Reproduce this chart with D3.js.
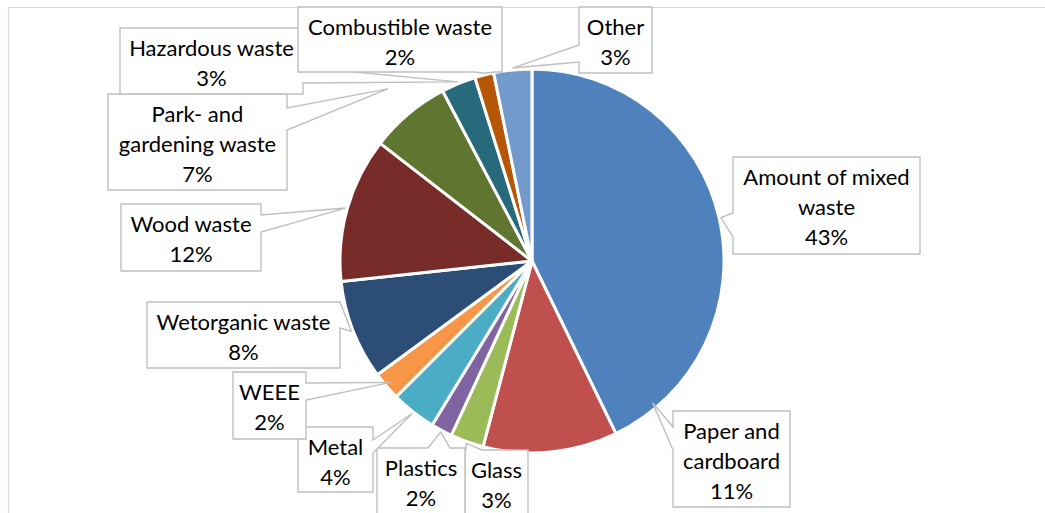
<!DOCTYPE html>
<html>
<head>
<meta charset="utf-8">
<script src="https://cdn.jsdelivr.net/npm/d3@7"></script>
<style>
  html, body { margin: 0; padding: 0; background: #fff; }
  svg { display: block; }
  text { font-family: Lato, "Noto Sans", sans-serif; fill: #000; }
</style>
</head>
<body>
<svg id="chart" width="1045" height="513"></svg>
<script>
// Waste composition (share of total, %), clockwise from 12 o'clock
const categories = [
  "Amount of mixed waste", "Paper and cardboard", "Glass", "Plastics", "Metal", "WEEE",
  "Wetorganic waste", "Wood waste", "Park- and gardening waste", "Hazardous waste",
  "Combustible waste", "Other"
];
const shares = [42.8, 11.3, 2.8, 1.8, 3.8, 2.4, 8.4, 12.2, 6.8, 2.9, 1.6, 3.2];
const labelLines = [
  ["Amount of mixed", "waste"], ["Paper and", "cardboard"], ["Glass"], ["Plastics"], ["Metal"],
  ["WEEE"], ["Wetorganic waste"], ["Wood waste"], ["Park- and", "gardening waste"],
  ["Hazardous waste"], ["Combustible waste"], ["Other"]
];
const colors = [
  "#4F81BD", "#C0504D", "#9BBB59", "#8064A2", "#4BACC6", "#F79646",
  "#2C4D75", "#772C2A", "#5F7530", "#276A7C", "#B65708", "#729ACA"
];

// Callout placement: box [x0, y0, x1, y1], side carrying the pointer, pointer base span,
// and tweaks to where the pointer touches the slice (angle offset in degrees, radius factor).
const callouts = [
  { box: [733, 157, 920, 254], side: "left",   base: [213, 237] },
  { box: [673, 411, 790, 507], side: "left",   base: [427, 450], dAngle: -34.8, rf: 0.97 },
  { box: [465, 450, 528, 540], side: "top",    base: [466, 482] },
  { box: [377, 448, 465, 540], side: "top",    base: [428, 450] },
  { box: [298, 427, 373, 492], side: "right",  base: [440, 453] },
  { box: [233, 372, 306, 439], side: "right",  base: [383, 400], rf: 0.97 },
  { box: [147, 302, 340, 368], side: "right",  base: [302, 328] },
  { box: [121, 204, 261, 271], side: "right",  base: [215, 232] },
  { box: [108,  94, 287, 190], side: "right",  base: [108, 130], rf: 1.17 },
  { box: [120,  28, 303,  94], side: "right",  base: [67, 83] },
  { box: [298,   7, 502,  72], side: "bottom", base: [475, 495] },
  { box: [579,   7, 652,  73], side: "left",   base: [45, 62] }
];

const W = 1045, H = 513;
const cx = 532, cy = 261, R = 192;

const svg = d3.select("#chart");

// outer chart frame
svg.append("path")
  .attr("d", `M8.5,${H + 5} L8.5,7.5 L${W + 5},7.5`)
  .attr("fill", "none")
  .attr("stroke", "#d9d9d9")
  .attr("stroke-width", 1.2);

const pie = d3.pie().sort(null).value(d => d);
const arcs = pie(shares);
const arc = d3.arc().innerRadius(0).outerRadius(R);

const g = svg.append("g").attr("transform", `translate(${cx},${cy})`);
g.selectAll("path.slice")
  .data(arcs)
  .join("path")
  .attr("class", "slice")
  .attr("d", arc)
  .attr("fill", (d, i) => colors[i])
  .attr("stroke", "#fff")
  .attr("stroke-width", 3)
  .attr("stroke-linejoin", "round");

// point on the pie for a given angle (clockwise from 12 o'clock, radians) and radius
function polar(a, r) {
  return [cx + r * Math.sin(a), cy - r * Math.cos(a)];
}

function calloutPath(c, tip) {
  const [x0, y0, x1, y1] = c.box;
  const [a, b] = c.base;
  let pts;
  if (c.side === "top") {
    pts = [[x0, y0], [a, y0], tip, [b, y0], [x1, y0], [x1, y1], [x0, y1]];
  } else if (c.side === "right") {
    pts = [[x0, y0], [x1, y0], [x1, a], tip, [x1, b], [x1, y1], [x0, y1]];
  } else if (c.side === "bottom") {
    pts = [[x0, y0], [x1, y0], [x1, y1], [b, y1], tip, [a, y1], [x0, y1]];
  } else {
    pts = [[x0, y0], [x1, y0], [x1, y1], [x0, y1], [x0, b], tip, [x0, a]];
  }
  return "M" + pts.map(p => p.join(",")).join("L") + "Z";
}

const fmt = v => d3.format(".0f")(v) + "%";

const labels = svg.append("g");
arcs.forEach((d, i) => {
  const c = callouts[i];
  const mid = (d.startAngle + d.endAngle) / 2 + (c.dAngle || 0) * Math.PI / 180;
  const tip = polar(mid, R * (c.rf || 1.01));
  const lg = labels.append("g");
  lg.append("path")
    .attr("d", calloutPath(c, tip))
    .attr("fill", "#fff")
    .attr("stroke", "#bfbfbf")
    .attr("stroke-width", 1.4)
    .attr("stroke-linejoin", "miter");
  const lines = labelLines[i].concat([fmt(d.data)]);
  const tx = (c.box[0] + c.box[2]) / 2;
  lines.forEach((ln, k) => {
    lg.append("text")
      .attr("x", tx)
      .attr("y", c.box[1] + 20.5 + 30 * k)
      .attr("dy", "0.36em")
      .attr("text-anchor", "middle")
      .attr("font-size", 22)
      .text(ln);
  });
});
</script>
</body>
</html>
